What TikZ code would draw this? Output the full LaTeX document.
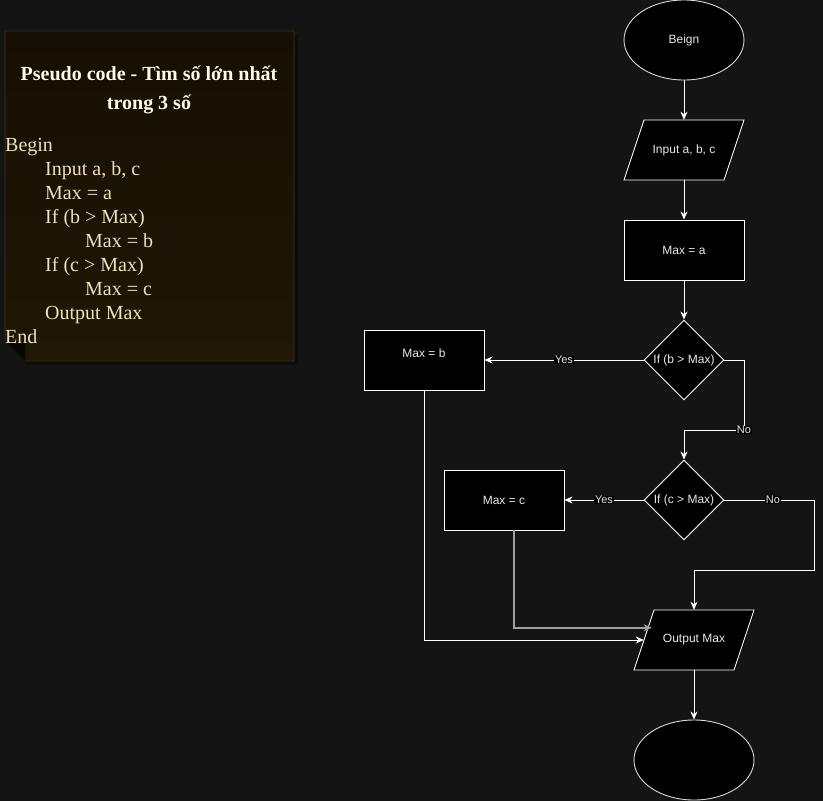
\documentclass[tikz,border=0pt]{standalone}
\usepackage{fontspec}
\setmainfont{Liberation Sans}
\newfontfamily\notefont{Liberation Serif}
\usetikzlibrary{shapes.geometric,arrows.meta,calc}
\definecolor{bgc}{RGB}{20,20,20}
\definecolor{notefillA}{RGB}{22,15,3}
\definecolor{notefillB}{RGB}{33,23,6}
\definecolor{noteedge}{RGB}{60,50,20}
\definecolor{notetext}{RGB}{236,226,190}
\definecolor{titletext}{RGB}{255,250,235}
\definecolor{fctext}{RGB}{232,232,232}
\definecolor{grayline}{RGB}{160,160,160}
\tikzset{
  fcshape/.style={draw=white, fill=black, line width=0.9pt, text=fctext,
    font=\fontsize{12}{14}\selectfont, inner sep=0pt},
  procbox/.style={fcshape, rectangle, minimum width=120pt, minimum height=60pt},
  termbox/.style={fcshape, ellipse, draw=white!85!black, minimum width=120pt, minimum height=80pt},
  iobox/.style={rectangle, text=fctext, font=\fontsize{12}{14}\selectfont, inner sep=0pt,
    minimum width=120pt, minimum height=60pt},
  ioshape/.style={draw=white, fill=black, line width=0.9pt},
  decbox/.style={fcshape, diamond, minimum width=80pt, minimum height=80pt},
  fctxt/.style={text=fctext, font=\fontsize{12}{14}\selectfont, inner sep=0pt},
  conn/.style={draw=white, line width=0.9pt, -{Stealth[length=8pt,width=7pt,inset=2.5pt]}},
  yn/.style={fill=black, text=fctext, font=\fontsize{11}{12}\selectfont, inner sep=0.6pt},
  notebody/.style={anchor=base west, text=notetext, inner sep=0pt, font=\notefont\fontsize{20}{24}\selectfont},
  notetitle/.style={anchor=base, text=titletext, inner sep=0pt, font=\notefont\bfseries\fontsize{20}{24}\selectfont}
}
\begin{document}
\begin{tikzpicture}[x=1pt,y=-1pt]
\path[use as bounding box, fill=bgc] (0,0) rectangle (823,801);

% note
\fill[black, opacity=0.35] (8,34) -- (298,34) -- (298,365) -- (28,365) -- (8,345) -- cycle;
\shade[top color=notefillA, bottom color=notefillB, draw=noteedge, line width=0.6pt]
  (5,31) -- (294,31) -- (294,361) -- (25,361) -- (5,341) -- cycle;
\fill[black!70!notefillB] (5,341) -- (25,341) -- (25,361) -- cycle;
\node[notetitle] (t1) at (149,80) {Pseudo code - Tìm số lớn nhất};
\node[notetitle] (t2) at (149,109) {trong 3 số};
\node[notebody] (l1) at (5,151.5) {Begin};
\node[notebody] (l2) at (45,175.5) {Input a, b, c};
\node[notebody] (l3) at (45,199.5) {Max = a};
\node[notebody] (l4) at (45,223.5) {If (b > Max)};
\node[notebody] (l5) at (85,247.5) {Max = b};
\node[notebody] (l6) at (45,271.5) {If (c > Max)};
\node[notebody] (l7) at (85,295.5) {Max = c};
\node[notebody] (l8) at (45,319.5) {Output Max};
\node[notebody] (l9) at (5,343.5) {End};

% flowchart
\node[termbox] (beg) at (684,40) {Beign};
\path[ioshape] (624,180) -- (724,180) -- (744,120) -- (644,120) -- cycle;
\node[iobox] (inp) at (684,150) {Input a, b, c};
\node[procbox] (ma) at (684,250) {Max = a};
\node[decbox] (d1) at (684,360) {};
\node[fctxt] (d1t) at (684,360) {If (b > Max)};
\node[procbox] (mb) at (424,360) {};
\node[fctxt] (mbt) at (424,353) {Max = b};
\node[decbox] (d2) at (684,500) {};
\node[fctxt] (d2t) at (684,500) {If (c > Max)};
\node[procbox] (mc) at (504,500) {Max = c};
\path[ioshape] (634,670) -- (734,670) -- (754,610) -- (654,610) -- cycle;
\node[iobox] (outp) at (694,640) {Output Max};
\node[termbox] (fin) at (694,760) {};

\coordinate (n1) at (744,430);
\coordinate (n2) at (814,570);
\coordinate (mcs) at ($(mc.south)+(10,0)$);
\coordinate (oc) at ($(outp.north west)+(18,18)$);
\coordinate (ow) at ($(outp.west)+(10,0)$);

\draw[conn] (beg.south) -- (inp.north);
\draw[conn] (inp.south) -- (ma.north);
\draw[conn] (ma.south) -- (d1.north);
\draw[conn] (d1.west) -- node[yn] (y1) {Yes} (mb.east);
\draw[conn] (d1.east) -| (n1) -| (d2.north);
\node[yn] (no1) at (n1) {No};
\draw[conn] (d2.west) -- node[yn] (y2) {Yes} (mc.east);
\draw[conn] (d2.east) -| (n2) -| (outp.north);
\node[yn] (no2) at (773,500) {No};
\draw[conn] (mb.south) |- (ow);
\draw[conn, draw=grayline, line width=1.4pt] (mcs) |- (oc);
\draw[conn] (outp.south) -- (fin.north);
\end{tikzpicture}
\end{document}
